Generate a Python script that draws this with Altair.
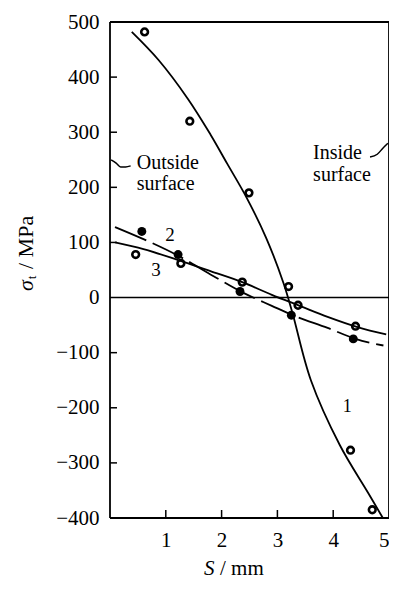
import altair as alt
import pandas as pd

# ---- measured points ----
s1_x = [0.62, 1.43, 2.49, 3.20, 4.31, 4.70]
s1_y = [482, 320, 190, 20, -277, -385]
s2_x = [0.57, 1.22, 2.33, 3.25, 4.36]
s2_y = [120, 78, 11, -32, -75]
s3_x = [0.46, 1.27, 2.37, 3.37, 4.40]
s3_y = [78, 62, 28, -14, -52]

# ---- fitted curves ----
c1_x = [0.39, 0.87, 1.40, 1.80, 2.10, 2.45, 2.80, 3.11, 3.27, 3.60, 4.12, 4.63, 4.89]
c1_y = [482, 431, 360, 296, 243, 181, 108, 26, -28, -150, -268, -355, -400]
c2_x = [0.09, 0.60, 1.22, 1.80, 2.40, 2.90, 3.30, 3.90, 4.40, 4.90]
c2_y = [128, 106, 76, 42, 8, -15, -33, -55, -75, -87]
c3_x = [0.09, 0.60, 1.22, 1.80, 2.37, 2.90, 3.40, 3.90, 4.45, 4.95]
c3_y = [100, 88, 68, 48, 28, 5, -15, -35, -54, -67]

# leader strokes for annotations
lo_x = [0.02, 0.11, 0.19, 0.28, 0.37]
lo_y = [250, 244, 237, 237, 239]
li_x = [4.66, 4.79, 4.89, 4.98]
li_y = [255, 260, 271, 280]

# frame edges
edge_y = [-400, 500]
edge_x = [0, 5]

y_ticks = [-400, -300, -200, -100, 0, 100, 200, 300, 400, 500]
y_inner_ticks = [-300, -200, -100, 100, 200, 300, 400]
x_ticks = [1, 2, 3, 4, 5]
x_inner_ticks = [1, 2, 3, 4]

FONT = "Liberation Serif"
W, H = 279, 496

xs = alt.Scale(domain=[0, 5], nice=False, zero=False)
ys = alt.Scale(domain=[-400, 500], nice=False, zero=False)

def df(x, y):
    return pd.DataFrame({"x": x, "y": y})

X = alt.X("x:Q", scale=xs, axis=alt.Axis(values=x_ticks, format="d", tickSize=0, domain=False, grid=False,
                                         labelFont=FONT, labelFontSize=21, labelColor="black",
                                         labelPadding=11, title=None))
Y = alt.Y("y:Q", scale=ys, axis=alt.Axis(values=y_ticks, tickSize=0, domain=False, grid=False,
                                         labelFont=FONT, labelFontSize=21, labelColor="black",
                                         labelPadding=11, title=None))

line1 = alt.Chart(df(c1_x, c1_y)).mark_line(color="black", strokeWidth=1.8, interpolate="catmull-rom").encode(x=X, y=Y)
line2 = alt.Chart(df(c2_x, c2_y)).mark_line(color="black", strokeWidth=1.8, interpolate="monotone",
                                            strokeDash=[34, 7]).encode(x="x:Q", y="y:Q")
line3 = alt.Chart(df(c3_x, c3_y)).mark_line(color="black", strokeWidth=1.8, interpolate="monotone").encode(x="x:Q", y="y:Q")

pts1 = alt.Chart(df(s1_x, s1_y)).mark_point(shape="circle", filled=False, color="black", size=45,
                                            strokeWidth=2.6, opacity=1).encode(x="x:Q", y="y:Q")
pts3 = alt.Chart(df(s3_x, s3_y)).mark_point(shape="circle", filled=False, color="black", size=45,
                                            strokeWidth=2.6, opacity=1).encode(x="x:Q", y="y:Q")
pts2 = alt.Chart(df(s2_x, s2_y)).mark_circle(color="black", size=80, opacity=1).encode(x="x:Q", y="y:Q")

zero = alt.Chart(pd.DataFrame({"y": [0]})).mark_rule(color="black", strokeWidth=1.6).encode(y="y:Q")

hframe = alt.Chart(pd.DataFrame({"y": edge_y})).mark_rule(color="black", strokeWidth=1.8).encode(y="y:Q")
vframe = alt.Chart(pd.DataFrame({"x": edge_x})).mark_rule(color="black", strokeWidth=1.8).encode(x="x:Q")

ytk = alt.Chart(pd.DataFrame({"y": y_inner_ticks})).mark_rule(color="black", strokeWidth=1.5).encode(
    y="y:Q", x=alt.value(0), x2=alt.value(7))
xtk = alt.Chart(pd.DataFrame({"x": x_inner_ticks})).mark_rule(color="black", strokeWidth=1.5).encode(
    x="x:Q", y=alt.value(H), y2=alt.value(H - 8))

lead_o = alt.Chart(df(lo_x, lo_y)).mark_line(color="black", strokeWidth=1.5, interpolate="monotone").encode(x="x:Q", y="y:Q")
lead_i = alt.Chart(df(li_x, li_y)).mark_line(color="black", strokeWidth=1.5, interpolate="monotone").encode(x="x:Q", y="y:Q")

ann = pd.DataFrame({
    "x": [0.48, 0.48, 3.64, 3.64, 0.99, 0.74, 4.17],
    "y": [244, 206, 262, 222, 113, 50, -199],
    "t": ["Outside", "surface", "Inside", "surface", "2", "3", "1"],
    "s": [20, 20, 20, 20, 19, 19, 18],
})
ann_txt = alt.Chart(ann).mark_text(font=FONT, color="black", align="left", baseline="middle").encode(
    x="x:Q", y="y:Q", text="t:N", size=alt.Size("s:Q", scale=None, legend=None))

# axis titles built from pieces (italic symbols)
ytitle_sigma = alt.Chart(pd.DataFrame({"t": ["σ"]})).mark_text(
    font=FONT, fontStyle="italic", fontSize=22, angle=270, align="left", baseline="middle", color="black"
).encode(text="t:N", x=alt.value(-84), y=alt.value(269))
ytitle_sub = alt.Chart(pd.DataFrame({"t": ["t"]})).mark_text(
    font=FONT, fontSize=12, angle=270, align="left", baseline="middle", color="black"
).encode(text="t:N", x=alt.value(-78), y=alt.value(257))
ytitle_rest = alt.Chart(pd.DataFrame({"t": ["/ MPa"]})).mark_text(
    font=FONT, fontSize=22, angle=270, align="left", baseline="middle", color="black"
).encode(text="t:N", x=alt.value(-84), y=alt.value(247))

xtitle_s = alt.Chart(pd.DataFrame({"t": ["S"]})).mark_text(
    font=FONT, fontStyle="italic", fontSize=21, align="left", baseline="alphabetic", color="black"
).encode(text="t:N", x=alt.value(94), y=alt.value(553))
xtitle_rest = alt.Chart(pd.DataFrame({"t": ["/ mm"]})).mark_text(
    font=FONT, fontSize=21, align="left", baseline="alphabetic", color="black"
).encode(text="t:N", x=alt.value(110), y=alt.value(553))

chart = alt.layer(
    line1, line2, line3, zero, hframe, vframe, ytk, xtk, pts1, pts3, pts2,
    lead_o, lead_i, ann_txt,
    ytitle_sigma, ytitle_sub, ytitle_rest, xtitle_s, xtitle_rest
).properties(
    width=W, height=H,
    autosize=alt.AutoSizeParams(type="none"),
    padding={"left": 102, "top": 14, "right": 0, "bottom": 64},
    background="white",
).configure_view(stroke=None)

chart.save("out.html", embed_options={"renderer": "svg", "actions": False})
